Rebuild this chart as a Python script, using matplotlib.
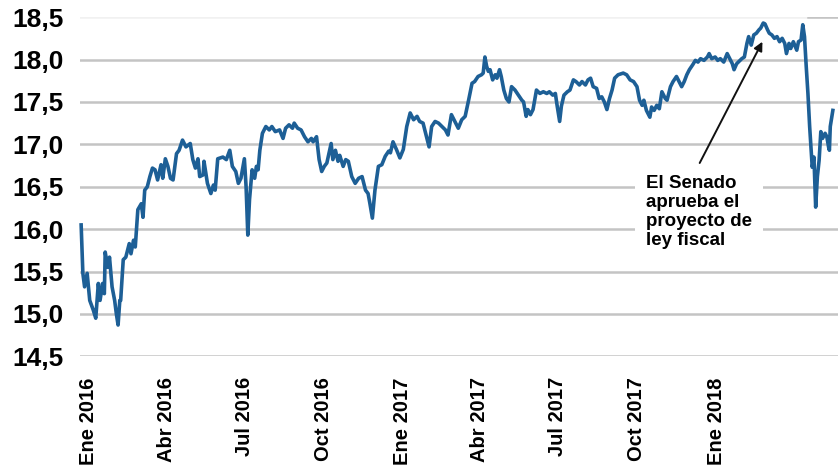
import numpy as np
import pandas as pd
import matplotlib
matplotlib.use('Agg')
import matplotlib.pyplot as plt

plt.rcParams['font.family'] = ['Liberation Sans', 'DejaVu Sans']
plt.rcParams['font.weight'] = 'bold'

# dias desde el 1 de enero de 2016 y nivel de la serie
dias = [-8, -6, -4, -1, 2, 6, 9, 12, 14, 17, 19, 20, 23, 25, 28, 31, 33, 35, 37, 38,
        41, 44, 48, 50, 53, 55, 58, 62, 64, 66, 69, 72, 75, 78, 81, 85, 87, 90, 93, 96,
        99, 103, 106, 110, 114, 119, 122, 125, 128, 130, 134, 135, 139, 143, 146, 148,
        151, 157, 161, 165, 168, 172, 175, 178, 182, 184, 186, 188, 191, 194, 196, 198,
        200, 203, 207, 211, 214, 218, 223, 227, 230, 234, 238, 240, 244, 248, 252, 256,
        260, 262, 266, 269, 272, 275, 278, 283, 285, 288, 291, 293, 297, 300, 303, 307,
        311, 315, 319,
        323, 326, 328, 331, 334, 338, 342, 346, 350, 352, 355, 359, 363, 367, 371, 375,
        379, 383, 386, 390, 394, 397, 400, 404, 408, 412, 416, 419, 423, 427, 431, 435,
        439, 443, 447, 450, 454, 458, 460, 462, 464, 466, 468, 471, 474, 476, 479, 481,
        484, 487, 490, 493, 497, 501, 505, 507, 510, 512, 515, 518, 522, 526, 530, 534,
        537, 541, 544, 546, 549, 551, 554, 558, 561, 565, 568, 572, 575, 579, 582, 585,
        588, 592, 595, 598, 601, 604, 607, 610, 613, 617, 623, 627,
        631, 635, 639, 642, 645, 647, 650, 654, 656, 659, 662, 665, 668, 672, 674, 678,
        681, 685, 688, 691, 694, 697, 700, 704, 707, 710, 713, 717, 721, 723, 726, 730,
        733, 736, 740, 744, 747, 750, 752, 755, 757, 761, 764, 767, 769, 772, 775, 778,
        781, 783, 786, 788, 791, 793, 796, 799, 802, 805, 808, 811, 813, 816, 818, 821,
        825, 827, 830, 832, 834, 836, 838, 840, 842, 843, 845, 846, 847, 849, 851, 853,
        855, 858, 860, 862, 863, 864, 867]
valores = [16.05, 15.48, 15.32, 15.48, 15.16, 15.05, 14.95, 15.36, 15.16, 15.36, 15.24, 15.73,
           15.55, 15.67, 15.32, 15.16, 15.00, 14.87, 15.16, 15.16, 15.64, 15.67, 15.83, 15.71,
           15.87, 15.79, 16.23, 16.30, 16.14, 16.46, 16.50, 16.62, 16.72, 16.70, 16.58, 16.76,
           16.60, 16.83, 16.74, 16.60, 16.58, 16.89, 16.93, 17.05, 16.97, 17.01, 16.82, 16.72,
           16.83, 16.62, 16.64, 16.80, 16.54, 16.42, 16.52, 16.46, 16.83, 16.85, 16.82, 16.93,
           16.74, 16.68, 16.54, 16.60, 16.83, 16.50, 15.93, 16.35, 16.70, 16.60, 16.74, 16.70,
           16.93, 17.13, 17.21, 17.17, 17.21, 17.15, 17.17, 17.07, 17.19, 17.23, 17.19, 17.25,
           17.19, 17.17, 17.09, 17.03, 17.07, 17.03, 17.09, 16.82, 16.68, 16.74, 16.78, 17.01,
           16.82, 16.93, 16.80, 16.87, 16.74, 16.82, 16.80, 16.62, 16.54, 16.60, 16.62,
           16.46, 16.42, 16.31, 16.13, 16.46, 16.74, 16.76, 16.86, 16.92, 16.90, 17.03, 16.94,
           16.84, 16.94, 17.21, 17.37, 17.29, 17.33, 17.27, 17.25, 17.09, 16.97, 17.21, 17.27,
           17.25, 17.21, 17.17, 17.11, 17.35, 17.27, 17.19, 17.29, 17.33, 17.52, 17.72, 17.74,
           17.80, 17.82, 17.84, 18.03, 17.92, 17.86, 17.88, 17.76, 17.82, 17.78, 17.88, 17.80,
           17.64, 17.54, 17.50, 17.68, 17.64, 17.58, 17.52, 17.50, 17.33, 17.41, 17.35, 17.41,
           17.64, 17.60, 17.62, 17.60, 17.62, 17.58, 17.60, 17.46, 17.27, 17.45, 17.58, 17.62,
           17.64, 17.76, 17.74, 17.70, 17.74, 17.70, 17.76, 17.78, 17.68, 17.66, 17.54, 17.56,
           17.50, 17.41, 17.54, 17.64, 17.78, 17.82, 17.84, 17.82,
           17.76, 17.74, 17.68, 17.52, 17.46, 17.52, 17.40, 17.32, 17.44, 17.40, 17.46, 17.42,
           17.62, 17.54, 17.52, 17.68, 17.74, 17.80, 17.74, 17.68, 17.74, 17.82, 17.88, 17.94,
           17.99, 17.97, 18.01, 17.99, 18.03, 18.07, 18.01, 18.03, 17.99, 18.01, 17.97, 18.07,
           18.01, 17.95, 17.88, 17.95, 17.97, 18.01, 18.03, 18.19, 18.27, 18.17, 18.29, 18.31,
           18.35, 18.37, 18.43, 18.42, 18.35, 18.31, 18.29, 18.25, 18.27, 18.21, 18.25, 18.19,
           18.07, 18.19, 18.13, 18.21, 18.11, 18.21, 18.23, 18.41, 18.27, 17.92, 17.60, 17.21,
           16.89, 16.73, 16.85, 16.54, 16.26, 16.62, 16.81, 17.15, 17.07, 17.13, 17.09, 16.97,
           16.93, 17.21, 17.40]

fechas_ticks = ['2016-01-01', '2016-04-01', '2016-07-01', '2016-10-01', '2017-01-01',
                '2017-04-01', '2017-07-01', '2017-10-01', '2018-01-01']
etiquetas_x = ['Ene 2016', 'Abr 2016', 'Jul 2016', 'Oct 2016', 'Ene 2017',
               'Abr 2017', 'Jul 2017', 'Oct 2017', 'Ene 2018']
niveles_y = [14.5, 15.0, 15.5, 16.0, 16.5, 17.0, 17.5, 18.0, 18.5]
nota = 'El Senado\naprueba el\nproyecto de\nley fiscal'

t0 = pd.Timestamp('2016-01-01')
fechas = t0 + pd.to_timedelta(dias, unit='D')

azul = '#1d5f96'
gris = '#c4c4c4'

fig = plt.figure(figsize=(8.38, 4.70), dpi=100)
ax = fig.add_axes([0.0955, 0.2417, 0.9045, 0.7219])

for v in niveles_y[:-1]:
    ax.axhline(v, color=gris, lw=1.8, zorder=1)
ax.axhline(18.5, color='#f1f1f1', lw=1.8, zorder=1)
ax.axhline(18.5, xmin=0.96, color=gris, lw=1.8, zorder=1)

ax.plot(fechas, valores, color=azul, lw=2.6, zorder=3, clip_on=False)

ax.set_xlim(t0 - pd.Timedelta(days=9.3), t0 + pd.Timedelta(days=873))
ax.set_ylim(14.5, 18.5)
ax.set_yticks(niveles_y)
ax.set_yticklabels([f'{v:.1f}'.replace('.', ',') for v in niveles_y],
                   fontsize=19, fontweight='bold')
ax.set_xticks(pd.to_datetime(fechas_ticks))
ax.set_xticklabels(etiquetas_x, rotation=90, fontsize=14.5, fontweight='bold')
ax.tick_params(axis='both', length=0)
ax.tick_params(axis='y', pad=12)
ax.tick_params(axis='x', pad=15)
for s in ax.spines.values():
    s.set_visible(False)

# nota y flecha
ax.text(t0 + pd.Timedelta(days=650), 16.64, nota, ha='left', va='top',
        fontsize=13.5, fontweight='bold', linespacing=1.15, zorder=4,
        bbox=dict(facecolor='white', edgecolor='none', pad=8))
ax.annotate('', xy=(t0 + pd.Timedelta(days=785), 18.21),
            xytext=(t0 + pd.Timedelta(days=712), 16.78),
            arrowprops=dict(arrowstyle='-|>', color='#111111', lw=1.4,
                            mutation_scale=13, shrinkA=0, shrinkB=0),
            zorder=5)

fig.savefig('out.png', dpi=100)
